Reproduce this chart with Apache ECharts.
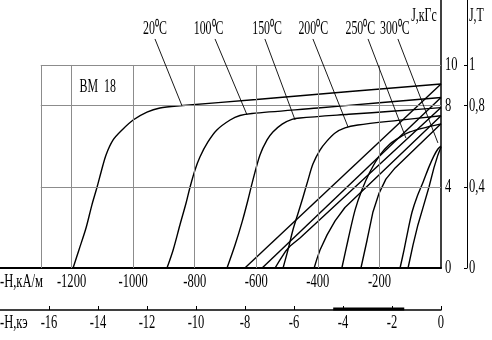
<!DOCTYPE html>
<html><head><meta charset="utf-8">
<script src="https://cdn.jsdelivr.net/npm/echarts@6/dist/echarts.min.js"></script>
<style>html,body{margin:0;padding:0;background:#fff}#c{width:492px;height:340px}</style>
</head><body><div id="c"></div>
<script>
// ---- data (H in kA/m, J/B in kGs) ----
const temperatures = ['20', '100', '150', '200', '250', '300'];
const hTicksKAm = [-1200, -1000, -800, -600, -400, -200];
const hTicksKOe = [-16, -14, -12, -10, -8, -6, -4, -2, 0];
const jTicksKGs = [0, 4, 8, 10];
const jTicksT = [0, 0.4, 0.8, 1];
const gridLinesH = [-1300, -1200, -1000, -800, -600, -400, -200];
const gridLinesJ = [4, 8, 10];

const J20 = [[-1195,0],[-1176,0.89],[-1153,1.97],[-1134,3.10],[-1117,3.99],[-1104,4.73],[-1088,5.57],[-1065,6.31],[-1036,6.80],[-1000,7.29],[-955,7.68],[-913,7.88],[-848,7.99],[-600,8.30],[-296,8.69],[0,9.06]];
const J100 = [[-890,0],[-870,0.89],[-848,2.12],[-828,3.20],[-815,3.99],[-799,4.83],[-783,5.47],[-757,6.21],[-728,6.80],[-685,7.29],[-653,7.51],[-614,7.61],[-400,7.88],[-200,8.14],[0,8.40]];
const J150 = [[-695,0],[-669,1.13],[-646,2.27],[-627,3.35],[-611,4.33],[-588,5.57],[-565,6.31],[-546,6.70],[-516,7.09],[-484,7.32],[-458,7.39],[-300,7.57],[-150,7.73],[0,7.90]];
const J200 = [[-513,0],[-497,0.89],[-481,1.87],[-464,2.71],[-448,3.50],[-432,4.33],[-416,5.12],[-393,5.81],[-370,6.26],[-344,6.65],[-312,6.90],[-270,7.04],[-140,7.27],[0,7.50]];
const J250 = [[-322,0],[-302,1.38],[-279,2.86],[-257,3.84],[-231,4.73],[-198,5.57],[-166,6.11],[-133,6.45],[-101,6.70],[-62,6.88],[0,7.10]];
const J300 = [[-133,0],[-120,0.89],[-107,1.87],[-94,2.76],[-78,3.50],[-58,4.24],[-39,4.98],[-23,5.52],[-10,5.86],[0,6.01]];

const B20 = [[-637,0],[0,9.06]];
const B100 = [[-581,0],[0,8.40]];
const B150 = [[-539,0],[-523,0.40],[-506,0.80],[-490,1.08],[-458,1.48],[0,7.90]];
const B200 = [[-412,0],[-403,0.45],[-393,0.89],[-370,1.63],[-344,2.32],[-312,2.98],[0,7.50]];
const B250 = [[-260,0],[-240,1.38],[-221,2.76],[-201,3.69],[-179,4.38],[-149,4.93],[0,7.10]];
const B300 = [[-107,0],[-91,1.13],[-75,2.12],[-58,3.00],[-39,3.99],[-23,4.93],[-10,5.57],[0,5.96]];

// ---- chart ----
const FONT = "'Liberation Serif','Times New Roman',serif";
const FS = 19, SX = 0.66;
const KOE = 79.577; // kA/m per kOe
const chart = echarts.init(document.getElementById('c'), null, {renderer: 'canvas'});

const jSeries = [J20, J100, J150, J200, J250, J300];
const bSeries = [B20, B100, B150, B200, B250, B300];
const curveStyle = {color: '#000', width: 1.4};

const series = [];
jSeries.forEach((d, i) => series.push({
  name: 'J ' + temperatures[i] + '°C', type: 'line', data: d, showSymbol: false,
  smooth: 0.3, lineStyle: curveStyle, silent: true
}));
bSeries.forEach((d, i) => series.push({
  name: 'B ' + temperatures[i] + '°C', type: 'line', data: d, showSymbol: false,
  smooth: false, lineStyle: curveStyle, silent: true
}));

// grid lines
const gridMarks = [];
gridLinesH.forEach(h => gridMarks.push([{coord: [h, 0]}, {coord: [h, 10]}]));
gridLinesJ.forEach(j => gridMarks.push([{coord: [gridLinesH[0], j]}, {coord: [0, j]}]));
series.unshift({
  type: 'line', data: [], silent: true,
  markLine: {symbol: 'none', silent: true, animation: false, label: {show: false},
    lineStyle: {color: '#8c8c8c', width: 1, type: 'solid'}, data: gridMarks}
});

// leader lines from temperature labels to curves
series.push({
  type: 'line', data: [], silent: true,
  markLine: {symbol: 'none', silent: true, animation: false, label: {show: false},
    lineStyle: {color: '#000', width: 0.9, type: 'solid'},
    data: [
      [{coord: [-929, 11.28]}, {coord: [-841, 7.98]}],
      [{coord: [-734, 11.28]}, {coord: [-630, 7.54]}],
      [{coord: [-572, 11.28]}, {coord: [-474, 7.29]}],
      [{coord: [-416, 11.28]}, {coord: [-302, 6.95]}],
      [{coord: [-237, 11.28]}, {coord: [-114, 6.40]}],
      [{coord: [-140, 11.28]}, {coord: [-10, 6.16]}]
    ]}
});

const txt = (x, y, text, align, fs) => ({type: 'text', x: x, y: y, scaleX: SX, silent: true,
  style: {text: text, fill: '#000', font: (fs || FS) + 'px ' + FONT, align: align || 'center', verticalAlign: 'middle'}});

const option = {
  animation: false,
  backgroundColor: '#fff',
  grid: {left: 0, right: 51, top: 0, bottom: 72, containLabel: false},
  xAxis: [
    {type: 'value', min: -18 * KOE, max: 0, position: 'bottom',
     axisLine: {onZero: false, lineStyle: {color: '#000', width: 2}},
     axisTick: {show: false}, splitLine: {show: false}, axisLabel: {show: false}},
    {type: 'value', min: -18, max: 0, position: 'bottom', offset: 42,
     axisLine: {onZero: false, lineStyle: {color: '#000', width: 1.5}},
     axisTick: {customValues: hTicksKOe, inside: true, length: 4, lineStyle: {color: '#000', width: 1}},
     splitLine: {show: false}, axisLabel: {show: false}}
  ],
  yAxis: [
    {type: 'value', min: 0, max: 13.2, position: 'right',
     axisLine: {show: true, onZero: false, lineStyle: {color: '#000', width: 1.5}},
     axisTick: {show: false}, splitLine: {show: false}, axisLabel: {show: false}},
    {type: 'value', min: 0, max: 1.32, position: 'right', offset: 26,
     axisLine: {show: true, onZero: false, lineStyle: {color: '#000', width: 1}},
     axisTick: {customValues: jTicksT, inside: true, length: 3, lineStyle: {color: '#000'}},
     splitLine: {show: false}, axisLabel: {show: false}}
  ],
  series: series
};
chart.setOption(option);

// tick labels and titles, placed through the axes' own scales (narrow serif look)
const px = (axis, idx, v) => chart.convertToPixel(axis === 'x' ? {xAxisIndex: idx} : {yAxisIndex: idx}, v);
const y0 = px('y', 0, 0);
const xR = px('x', 0, 0);
const g = [];
hTicksKAm.forEach(v => g.push(txt(px('x', 0, v), y0 + 14, String(v))));
hTicksKOe.forEach(v => g.push(txt(px('x', 1, v), y0 + 55, String(v))));
jTicksKGs.forEach(v => g.push(txt(xR + 4, px('y', 0, v), String(v), 'left')));
jTicksT.forEach(v => g.push(txt(xR + 28, px('y', 1, v), String(v).replace('.', ','), 'left')));
const tempLabelH = [-929, -755, -565, -415, -262, -150];
temperatures.forEach((t, i) => g.push(txt(px('x', 0, tempLabelH[i]), 29, t + '⁰C', 'center', 18)));
g.push(txt(xR - 17, 16, 'J,кГс', 'center', 18));
g.push(txt(xR + 28, 16, 'J,T', 'left', 18));
g.push(txt(px('x', 0, -1115), px('y', 0, 8.9), 'ВМ  18', 'center', 18));
g.push(txt(0, y0 + 14, '-H,кА/м', 'left'));
g.push(txt(0, y0 + 55, '-H,кэ', 'left'));
// thicker stretch of the kOe scale line as in the original print
g.push({type: 'line', silent: true,
  shape: {x1: px('x', 1, -4.4), y1: y0 + 41, x2: px('x', 1, -1.5), y2: y0 + 41},
  style: {stroke: '#000', lineWidth: 3}});
chart.setOption({graphic: g});
</script></body></html>
